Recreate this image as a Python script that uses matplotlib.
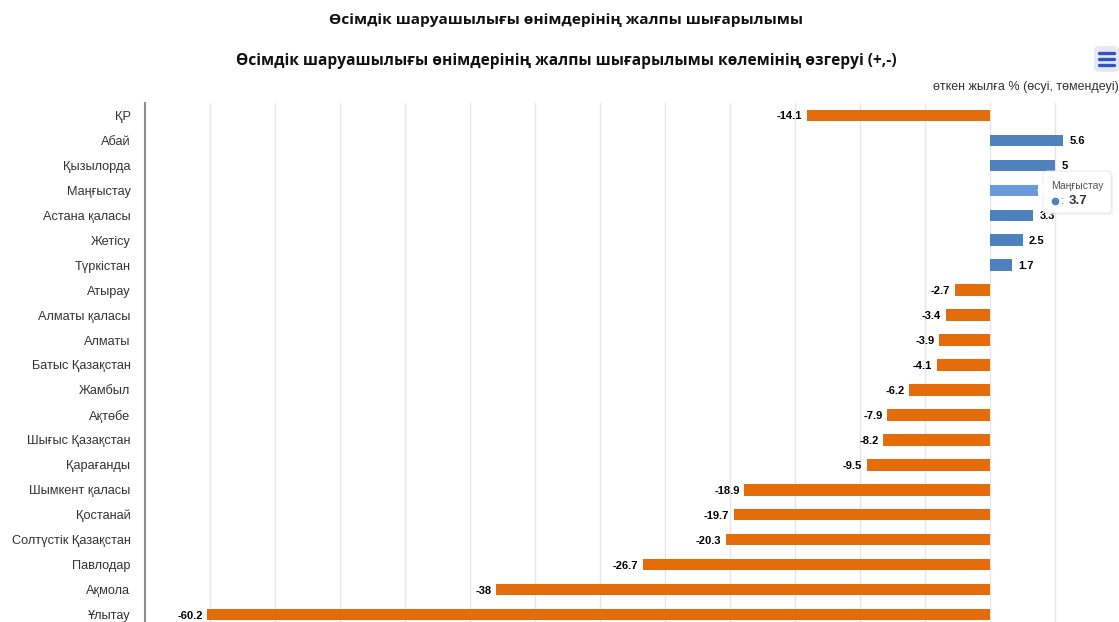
import matplotlib
matplotlib.use("Agg")
import matplotlib.pyplot as plt
from matplotlib.patches import FancyBboxPatch, Polygon

regions = ["ҚР", "Абай", "Қызылорда", "Маңғыстау", "Астана қаласы", "Жетісу",
           "Түркістан", "Атырау", "Алматы қаласы", "Алматы", "Батыс Қазақстан",
           "Жамбыл", "Ақтөбе", "Шығыс Қазақстан", "Қарағанды", "Шымкент қаласы",
           "Қостанай", "Солтүстік Қазақстан", "Павлодар", "Ақмола", "Ұлытау"]
change = [-14.1, 5.6, 5, 3.7, 3.3, 2.5, 1.7, -2.7, -3.4, -3.9, -4.1,
          -6.2, -7.9, -8.2, -9.5, -18.9, -19.7, -20.3, -26.7, -38, -60.2]
hover_idx = 3

W, H = 1119, 622
fig = plt.figure(figsize=(W / 100, H / 100), dpi=100)

def px(x0, y0, x1, y1):
    # pixel box (top-left origin) -> figure fraction rect
    return [x0 / W, 1 - y1 / H, (x1 - x0) / W, (y1 - y0) / H]

ax = fig.add_axes(px(145, 103, 1120, 627))

colors = []
for i, v in enumerate(change):
    if v < 0:
        colors.append("#e46c0a")
    elif i == hover_idx:
        colors.append("#6a9bd8")
    else:
        colors.append("#4f81bd")

ypos = list(range(len(regions)))
ax.barh(ypos, change, height=0.46, color=colors, zorder=3)

for y, v in zip(ypos, change):
    lbl = f"{v:g}"
    if v < 0:
        ax.text(v - 0.35, y, lbl, ha="right", va="center_baseline", fontsize=8,
                fontweight="bold", family="Liberation Sans", color="#000000", zorder=4)
    else:
        ax.text(v + 0.5, y, lbl, ha="left", va="center_baseline", fontsize=8,
                fontweight="bold", family="Liberation Sans", color="#000000", zorder=4)

ax.set_xlim(-65, 10)
ax.set_ylim(len(regions) - 0.5, -0.5)
ax.set_xticks(range(-60, 10, 5))
ax.xaxis.grid(True, color="#e6e6e6", linewidth=1, zorder=0)
ax.set_xticklabels([])
ax.tick_params(axis="x", length=0)
ax.set_yticks(ypos)
ax.set_yticklabels(regions, family="Liberation Sans", fontsize=9.2, color="#333333")
ax.tick_params(axis="y", length=0, pad=10.5)
for s in ["top", "right", "bottom"]:
    ax.spines[s].set_visible(False)
ax.spines["left"].set_color("#8c8c8c")
ax.spines["left"].set_linewidth(1.5)
ax.set_facecolor("none")

fig.text(566 / W, 1 - 20 / H, "Өсімдік шаруашылығы өнімдерінің жалпы шығарылымы",
         ha="center", va="center", fontsize=11.1, fontweight="bold",
         family="Open Sans", color="#111111")
fig.text(566 / W, 1 - 61 / H,
         "Өсімдік шаруашылығы өнімдерінің жалпы шығарылымы көлемінің өзгеруі (+,-)",
         ha="center", va="center", fontsize=11.2, fontweight="bold",
         family="Open Sans", color="#111111")
fig.text(1119 / W, 1 - 87 / H, "өткен жылға % (өсуі, төмендеуі)",
         ha="right", va="center", fontsize=9, family="Liberation Sans", color="#333333")

# menu button
fig.patches.append(FancyBboxPatch((1094 / W, 1 - 72 / H), 25 / W, 26 / H,
                                  boxstyle="round,pad=0,rounding_size=0.006",
                                  transform=fig.transFigure, facecolor="#e6e9f5",
                                  edgecolor="none"))
for yy in (53, 59, 65):
    fig.add_artist(plt.Line2D([1099 / W, 1114 / W], [1 - yy / H, 1 - yy / H],
                              transform=fig.transFigure, color="#3355bb",
                              linewidth=2.4, solid_capstyle="round"))

# hover tooltip
fig.patches.append(FancyBboxPatch((1045 / W, 1 - 215 / H), 68 / W, 42 / H,
                                  boxstyle="round,pad=0,rounding_size=0.004",
                                  transform=fig.transFigure, facecolor="#e8e8e8",
                                  edgecolor="none", alpha=0.5))
fig.patches.append(FancyBboxPatch((1043 / W, 1 - 213 / H), 68 / W, 42 / H,
                                  boxstyle="round,pad=0,rounding_size=0.004",
                                  transform=fig.transFigure, facecolor="white",
                                  edgecolor="#e6e6e6", linewidth=0.6))
fig.patches.append(Polygon([[1043.5 / W, 1 - 184 / H], [1037 / W, 1 - 190 / H],
                            [1043.5 / W, 1 - 196 / H]], closed=True,
                           transform=fig.transFigure, facecolor="white",
                           edgecolor="none"))
fig.text(1051 / W, 1 - 186 / H, regions[hover_idx], ha="left", va="center",
         fontsize=7.5, family="Liberation Sans", color="#555555")
fig.add_artist(plt.Line2D([1055 / W], [1 - 201 / H], transform=fig.transFigure,
                          marker="o", markersize=4.5, color="#4f81bd", linestyle="none"))
fig.text(1061 / W, 1 - 201 / H, ":", ha="left", va="center",
         fontsize=8, family="Liberation Sans", color="#555555")
fig.text(1069 / W, 1 - 201 / H, f"{change[hover_idx]:g}", ha="left", va="center",
         fontsize=9.5, fontweight="bold", family="Liberation Sans", color="#333333")

fig.savefig("out.png", dpi=100)
